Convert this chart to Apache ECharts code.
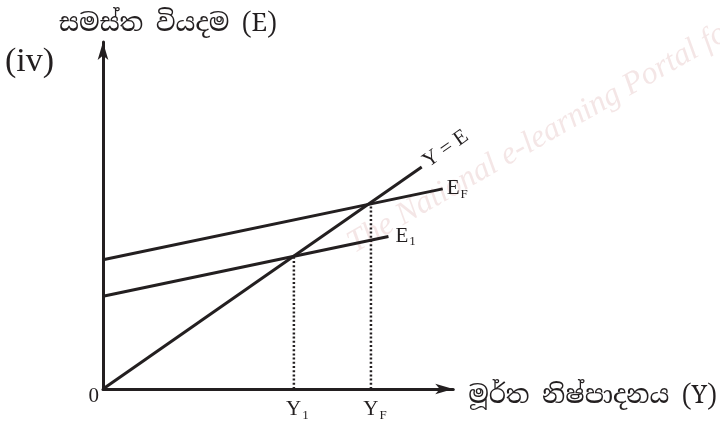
<!DOCTYPE html>
<html><head><meta charset="utf-8">
<script src="https://cdn.jsdelivr.net/npm/echarts@6/dist/echarts.min.js"></script>
<style>html,body{margin:0;padding:0;background:#fff}#c{width:720px;height:422px}</style>
</head><body><div id="c"></div>
<script>
// ---- data ----
const yAxisTitle = 'සමස්ත වියදම (E)';
const xAxisTitle = 'මූර්ත නිෂ්පාදනය (Y)';
const panelLabel = '(iv)';
const watermarkText = 'The National e-learning Portal for T';
const lineYE = [[0, 0], [91, 91]];          // Y = E (45° line)
const lineEF = [[0, 53], [97, 82]];         // E_F
const lineE1 = [[0, 38], [81.5, 62.5]];     // E_1
const Y1 = 54.5;
const YF = 76.5;
const dotY1 = [[Y1, 0], [Y1, Y1]];
const dotYF = [[YF, 0], [YF, YF]];
const xTickValues = [Y1, YF];
const xTickLabels = ['{b1|Y}{s|1}', '{bF|Y}{s|F}'];
const yTickValues = [0];
const yTickLabels = ['0'];
const lineLabels = ['Y = E', '{b|E}{s|F}', '{b|E}{s|1}'];

// ---- styles ----
const INK = '#231f20';
const SERIF = "'Liberation Serif','DejaVu Serif',serif";
const SINH = "'Noto Serif Sinhala','Noto Sans Sinhala','Iskoola Pota','Liberation Serif',serif";
const subRich = {
  b: {fontFamily: SERIF, fontSize: 21, color: INK, lineHeight: 22, verticalAlign: 'top'},
  b1: {fontFamily: SERIF, fontSize: 21, color: INK, lineHeight: 22, verticalAlign: 'top', padding: [0, 0, 0, 7]},
  bF: {fontFamily: SERIF, fontSize: 21, color: INK, lineHeight: 22, verticalAlign: 'top', padding: [0, 0, 0, 8]},
  s: {fontFamily: SERIF, fontSize: 13, color: INK, lineHeight: 13, verticalAlign: 'top', padding: [10, 0, 0, 1]}
};

function endItem(pt, label) {
  return {value: pt, label: label};
}

const chart = echarts.init(document.getElementById('c'), null, {renderer: 'canvas'});
chart.setOption({
  backgroundColor: '#ffffff',
  animation: false,
  title: {
    text: panelLabel, left: 0, top: 40,
    textStyle: {fontFamily: SERIF, fontSize: 34, fontWeight: 'normal', color: INK}
  },
  graphic: [{
    type: 'text', x: 350, y: 246, rotation: 0.52, z: -10, silent: true,
    style: {
      text: watermarkText, font: 'italic 32px ' + SERIF,
      fill: 'rgba(200,130,130,0.2)', verticalAlign: 'middle', align: 'left'
    }
  }],
  grid: {left: 103, top: 42, width: 354, height: 350, containLabel: false},
  xAxis: {
    type: 'value', min: 0, max: 100,
    axisLine: {show: true, onZero: false, symbol: ['none', 'arrow'], symbolSize: [8, 18],
      lineStyle: {color: INK, width: 3}},
    axisTick: {show: false},
    splitLine: {show: false},
    axisLabel: {
      show: true, customValues: xTickValues, margin: 10,
      formatter: function (v) { return xTickLabels[xTickValues.indexOf(v)] || ''; },
      rich: subRich
    },
    name: xAxisTitle, nameLocation: 'end', nameGap: 15,
    nameTextStyle: {fontFamily: SINH, fontSize: 25, color: INK, align: 'left',
      verticalAlign: 'top', lineHeight: 14}
  },
  yAxis: {
    type: 'value', min: 0, max: 142.2,
    axisLine: {show: true, onZero: false, symbol: ['none', 'arrow'], symbolSize: [8, 18],
      lineStyle: {color: INK, width: 3}},
    axisTick: {show: false},
    splitLine: {show: false},
    axisLabel: {
      show: true, customValues: yTickValues, margin: 4,
      formatter: function (v) { return yTickLabels[yTickValues.indexOf(v)] || ''; },
      fontFamily: SERIF, fontSize: 21, color: INK, verticalAlign: 'top', lineHeight: 14
    },
    name: yAxisTitle, nameLocation: 'end', nameGap: 18,
    nameTextStyle: {fontFamily: SINH, fontSize: 25, color: INK, align: 'center',
      verticalAlign: 'middle', padding: [0, 0, 0, 130]}
  },
  series: [
    {
      type: 'line', data: [lineYE[0], endItem(lineYE[1], {
        show: true, position: 'inside', offset: [30, -1], rotate: 35,
        formatter: lineLabels[0], fontFamily: SERIF, fontSize: 21, color: INK,
        align: 'center', verticalAlign: 'middle'})],
      symbol: 'circle', symbolSize: 0, showSymbol: true, silent: true,
      lineStyle: {color: INK, width: 3}, itemStyle: {color: INK}
    },
    {
      type: 'line', data: [lineEF[0], endItem(lineEF[1], {
        show: true, position: 'right', distance: 4,
        formatter: lineLabels[1], rich: subRich, verticalAlign: 'middle'})],
      symbol: 'circle', symbolSize: 0, showSymbol: true, silent: true,
      lineStyle: {color: INK, width: 3}, itemStyle: {color: INK}
    },
    {
      type: 'line', data: [lineE1[0], endItem(lineE1[1], {
        show: true, position: 'right', distance: 7,
        formatter: lineLabels[2], rich: subRich, verticalAlign: 'middle'})],
      symbol: 'circle', symbolSize: 0, showSymbol: true, silent: true,
      lineStyle: {color: INK, width: 3}, itemStyle: {color: INK}
    },
    {
      type: 'line', data: dotY1, symbol: 'none', silent: true,
      lineStyle: {color: INK, width: 2.5, type: [2, 2.2], cap: 'butt'}
    },
    {
      type: 'line', data: dotYF, symbol: 'none', silent: true,
      lineStyle: {color: INK, width: 2.5, type: [2, 2.2], cap: 'butt'}
    }
  ]
});
</script></body></html>
